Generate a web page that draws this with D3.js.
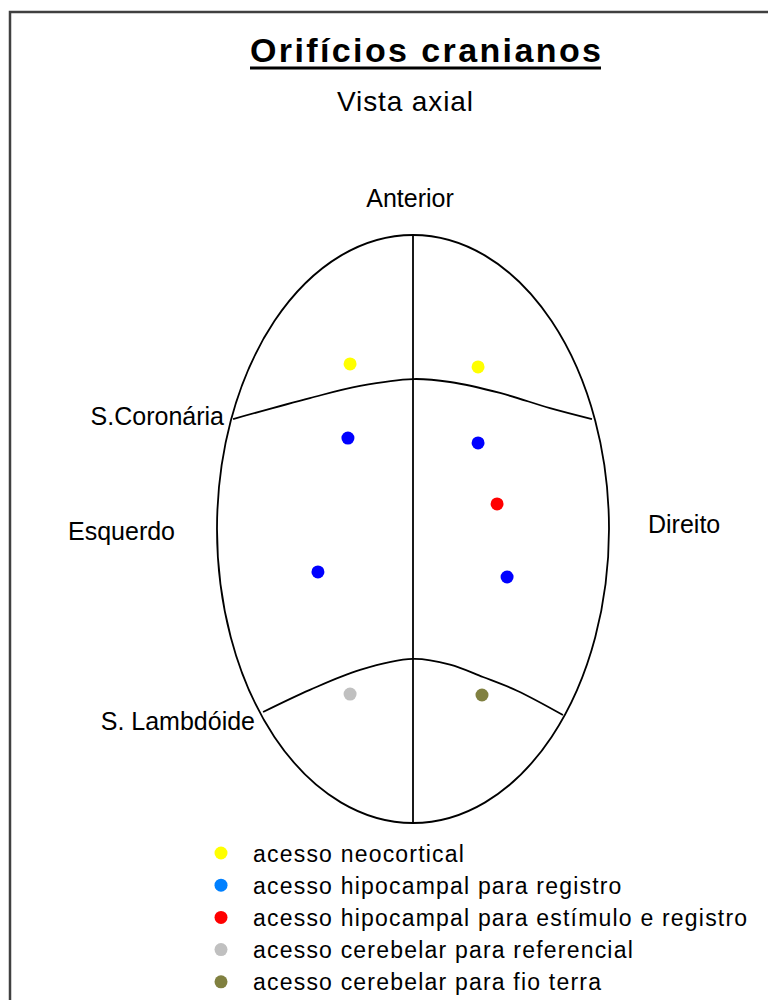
<!DOCTYPE html>
<html>
<head>
<meta charset="utf-8">
<script src="https://cdn.jsdelivr.net/npm/d3@7"></script>
<style>
  html, body { margin: 0; padding: 0; background: #fff; }
  svg { display: block; }
  text { font-family: "Liberation Sans", Arial, sans-serif; fill: #000; }
</style>
</head>
<body>
<svg id="chart" width="768" height="1000"></svg>
<script>
// ---- Data (skull coordinates, arbitrary units: x = left/right, y = anterior/posterior) ----
const titleText = "Orifícios cranianos";
const subtitleText = "Vista axial";

const categories = [
  "acesso neocortical",
  "acesso hipocampal para registro",
  "acesso hipocampal para estímulo e registro",
  "acesso cerebelar para referencial",
  "acesso cerebelar para fio terra"
];
const pointColors  = ["#ffff00", "#0000ff", "#ff0000", "#c0c0c0", "#808040"];
const legendColors = ["#ffff00", "#0080ff", "#ff0000", "#c0c0c0", "#808040"];

// holes
const holeX        = [-3.21, 3.32, -3.32, 3.32, -4.85, 4.80, 4.29, -3.21, 3.52];
const holeY        = [ 8.42, 8.27,  4.64, 4.39, -2.19, -2.45, 1.28, -8.42, -8.47];
const holeCategory = [0, 0, 1, 1, 1, 1, 2, 3, 4];

// skull outline half-axes
const skullHalfWidth = 10;
const skullHalfLength = 15;

// sutures
const coronalX  = [-9.18, -5.26, -2.70, 0.00, 1.89, 4.44, 6.99, 9.13];
const coronalY  = [ 5.61,  6.68,  7.30, 7.65, 7.50, 6.94, 6.17, 5.61];
const lambdoidX = [-7.65, -5.26, -2.70, 0.00, 1.89, 3.57, 5.31, 7.65];
const lambdoidY = [-9.34, -8.21, -7.19, -6.63, -6.92, -7.55, -8.25, -9.49];

// region labels
const labelTexts = ["Anterior", "Direito", "Esquerdo", "S.Coronária", "S. Lambdóide"];

// ---- Drawing ----
const svg = d3.select("#chart");

// frame
svg.append("rect")
  .attr("x", 10).attr("y", 12)
  .attr("width", 800).attr("height", 1000)
  .attr("fill", "none")
  .attr("stroke", "#404040")
  .attr("stroke-width", 2.5);

const x = d3.scaleLinear().domain([-skullHalfWidth, skullHalfWidth]).range([217, 609]);
const y = d3.scaleLinear().domain([skullHalfLength, -skullHalfLength]).range([235, 823]);

// title
svg.append("text")
  .attr("x", 250).attr("y", 62)
  .attr("font-size", 34).attr("font-weight", "bold")
  .attr("textLength", 351).attr("lengthAdjust", "spacing")
  .text(titleText);
svg.append("line")
  .attr("x1", 250).attr("x2", 601)
  .attr("y1", 68).attr("y2", 68)
  .attr("stroke", "#000").attr("stroke-width", 3);

svg.append("text")
  .attr("x", 337).attr("y", 111)
  .attr("font-size", 28)
  .attr("textLength", 136).attr("lengthAdjust", "spacing")
  .text(subtitleText);

// skull outline
const g = svg.append("g");
g.append("ellipse")
  .attr("cx", x(0)).attr("cy", y(0))
  .attr("rx", x(skullHalfWidth) - x(0))
  .attr("ry", y(-skullHalfLength) - y(0))
  .attr("fill", "none").attr("stroke", "#000").attr("stroke-width", 1.8);

// midline
g.append("line")
  .attr("x1", x(0)).attr("x2", x(0))
  .attr("y1", y(skullHalfLength)).attr("y2", y(-skullHalfLength))
  .attr("stroke", "#000").attr("stroke-width", 1.8);

const lineGen = d3.line().x(d => x(d[0])).y(d => y(d[1])).curve(d3.curveCatmullRom);
g.append("path")
  .attr("d", lineGen(coronalX.map((v, i) => [v, coronalY[i]])))
  .attr("fill", "none").attr("stroke", "#000").attr("stroke-width", 1.8);
g.append("path")
  .attr("d", lineGen(lambdoidX.map((v, i) => [v, lambdoidY[i]])))
  .attr("fill", "none").attr("stroke", "#000").attr("stroke-width", 1.8);

// holes
g.selectAll("circle.hole")
  .data(holeX.map((v, i) => ({ x: v, y: holeY[i], c: holeCategory[i] })))
  .join("circle")
  .attr("class", "hole")
  .attr("cx", d => x(d.x)).attr("cy", d => y(d.y))
  .attr("r", 6.5)
  .attr("fill", d => pointColors[d.c]);

// labels
const labelPos = [
  { x: 410, y: 207, anchor: "middle" },
  { x: 648, y: 533, anchor: "start" },
  { x: 68,  y: 540, anchor: "start" },
  { x: 224, y: 425, anchor: "end" },
  { x: 255, y: 730, anchor: "end" }
];
svg.selectAll("text.lbl")
  .data(labelTexts)
  .join("text")
  .attr("class", "lbl")
  .attr("x", (d, i) => labelPos[i].x)
  .attr("y", (d, i) => labelPos[i].y)
  .attr("text-anchor", (d, i) => labelPos[i].anchor)
  .attr("font-size", 25)
  .text(d => d);

// legend
const leg = svg.append("g");
const legItems = leg.selectAll("g.item")
  .data(categories)
  .join("g")
  .attr("class", "item")
  .attr("transform", (d, i) => `translate(0, ${853 + i * 32.2})`);
legItems.append("circle")
  .attr("cx", 221).attr("cy", 0).attr("r", 6.5)
  .attr("fill", (d, i) => legendColors[i]);
legItems.append("text")
  .attr("x", 253).attr("y", 8.5)
  .attr("font-size", 23)
  .style("letter-spacing", "1.2px")
  .text(d => d);
</script>
</body>
</html>
